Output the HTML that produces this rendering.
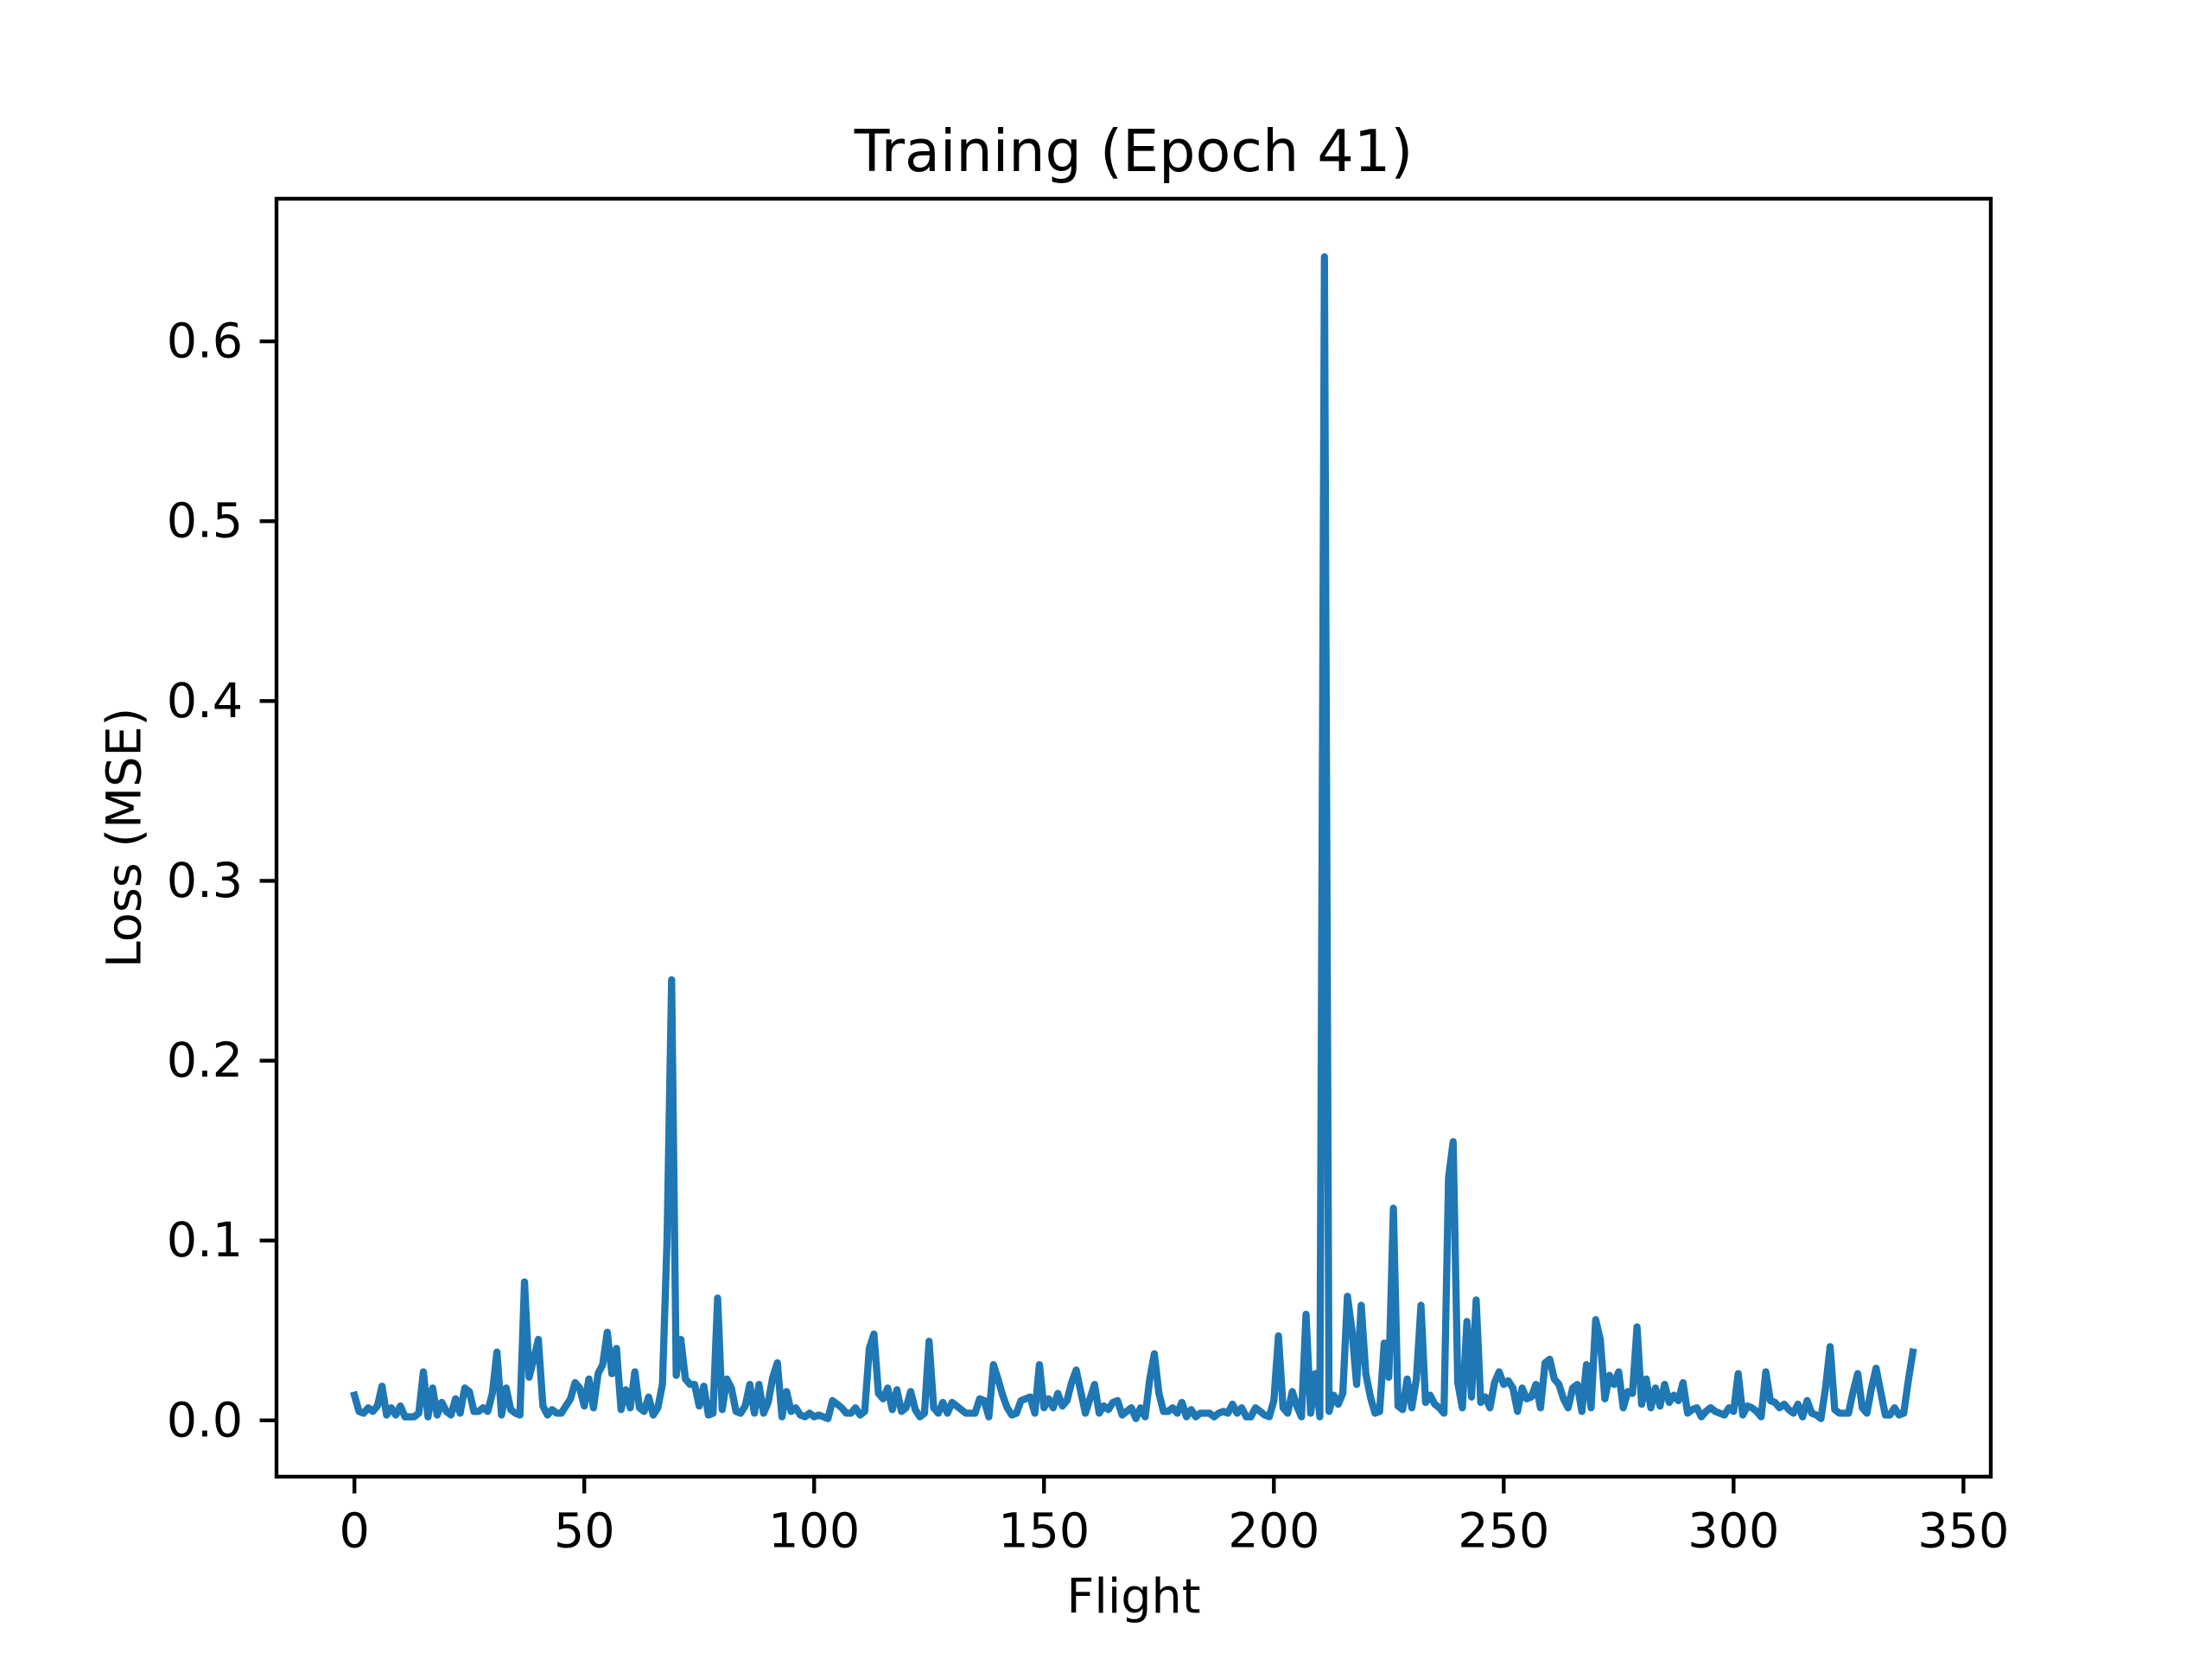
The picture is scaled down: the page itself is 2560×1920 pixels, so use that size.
<!DOCTYPE html>
<html><head><meta charset="utf-8"><title>Training (Epoch 41)</title>
<style>html,body{margin:0;padding:0;background:#fff}svg{display:block}text{font-family:"DejaVu Sans","Liberation Sans",sans-serif;fill:#000}</style>
</head><body>
<svg id="chart" width="2560" height="1920" viewBox="0 0 2560 1920" xmlns="http://www.w3.org/2000/svg">
<rect x="0" y="0" width="2560" height="1920" fill="#fff"/>
<g id="plot"></g>
</svg>
<script>
const lossValues = [
0.014,0.005,0.004,0.007,0.005,0.008,0.019,0.003,0.007,0.003,
0.008,0.002,0.002,0.002,0.004,0.027,0.002,0.018,0.003,0.010,
0.005,0.003,0.012,0.004,0.018,0.016,0.005,0.005,0.007,0.005,
0.015,0.038,0.003,0.018,0.006,0.004,0.003,0.077,0.024,0.034,
0.045,0.008,0.003,0.006,0.004,0.004,0.008,0.012,0.021,0.018,
0.008,0.023,0.007,0.026,0.031,0.049,0.026,0.040,0.006,0.017,
0.007,0.027,0.007,0.005,0.013,0.003,0.007,0.020,0.100,0.245,
0.025,0.045,0.023,0.020,0.020,0.008,0.019,0.003,0.004,0.068,
0.006,0.023,0.018,0.005,0.004,0.008,0.020,0.004,0.020,0.004,
0.010,0.024,0.032,0.002,0.016,0.005,0.007,0.003,0.002,0.004,
0.002,0.003,0.002,0.001,0.011,0.009,0.007,0.004,0.004,0.007,
0.003,0.005,0.040,0.048,0.015,0.012,0.018,0.006,0.017,0.005,
0.007,0.016,0.006,0.002,0.004,0.044,0.007,0.004,0.010,0.004,
0.010,0.008,0.006,0.004,0.004,0.004,0.012,0.011,0.002,0.031,
0.023,0.014,0.007,0.003,0.004,0.011,0.012,0.013,0.004,0.031,
0.007,0.012,0.007,0.015,0.008,0.011,0.021,0.028,0.016,0.004,
0.012,0.020,0.004,0.008,0.006,0.010,0.011,0.003,0.005,0.007,
0.001,0.007,0.002,0.023,0.037,0.015,0.005,0.005,0.007,0.004,
0.010,0.002,0.006,0.002,0.004,0.004,0.004,0.002,0.004,0.005,
0.004,0.009,0.004,0.007,0.002,0.002,0.007,0.005,0.003,0.002,
0.011,0.047,0.007,0.004,0.016,0.008,0.002,0.059,0.004,0.026,
0.002,0.647,0.005,0.014,0.009,0.015,0.069,0.050,0.020,0.064,
0.026,0.013,0.004,0.005,0.043,0.024,0.118,0.008,0.006,0.023,
0.007,0.023,0.064,0.010,0.014,0.009,0.007,0.004,0.135,0.155,
0.021,0.007,0.055,0.013,0.067,0.010,0.013,0.007,0.021,0.027,
0.020,0.022,0.018,0.005,0.018,0.012,0.013,0.020,0.007,0.032,
0.034,0.023,0.020,0.012,0.007,0.018,0.020,0.005,0.031,0.007,
0.056,0.045,0.012,0.025,0.020,0.027,0.007,0.016,0.015,0.052,
0.009,0.023,0.007,0.018,0.008,0.020,0.010,0.014,0.011,0.021,
0.004,0.006,0.007,0.002,0.005,0.007,0.005,0.004,0.003,0.007,
0.005,0.026,0.003,0.008,0.007,0.005,0.002,0.027,0.011,0.010,
0.007,0.009,0.006,0.004,0.009,0.002,0.011,0.004,0.003,0.001,
0.018,0.041,0.006,0.004,0.004,0.004,0.016,0.026,0.007,0.004,
0.018,0.029,0.016,0.003,0.003,0.007,0.003,0.004,0.022,0.038
];
const xTickValues = [0,50,100,150,200,250,300,350];
const yTickValues = [0.0,0.1,0.2,0.3,0.4,0.5,0.6];
const yTickLabels = ["0.0","0.1","0.2","0.3","0.4","0.5","0.6"];

const NS = "http://www.w3.org/2000/svg";
const L = 320, R = 2304, T = 230, B = 1709;
const n = lossValues.length;
const xMin = -0.05*(n-1), xMax = (n-1)*1.05;
const dMin = Math.min(...lossValues), dMax = Math.max(...lossValues);
const yMin = dMin - 0.05*(dMax-dMin), yMax = dMax + 0.05*(dMax-dMin);
function xScale(v){ return L + (v - xMin)/(xMax - xMin)*(R - L); }
function yScale(v){ return B - (v - yMin)/(yMax - yMin)*(B - T); }
const g = document.getElementById('plot');
function mk(tag, attrs, parent){ const e = document.createElementNS(NS, tag); for (const k in attrs) e.setAttribute(k, attrs[k]); (parent||g).appendChild(e); return e; }

// line
let d = "";
lossValues.forEach((v,i)=>{ d += (i? "L":"M") + xScale(i).toFixed(2) + " " + yScale(v).toFixed(2); });
const line = mk('path', {d:d, fill:'none', stroke:'#1f77b4', 'stroke-width':8.3, 'stroke-linejoin':'round', 'stroke-linecap':'square'});



// frame
const frame = mk('rect', {x:L, y:T, width:R-L, height:B-T, fill:'none', stroke:'#000', 'stroke-width':4.4});



// x ticks
xTickValues.forEach(v=>{
  const x = xScale(v);
  const t = mk('line', {x1:x, x2:x, y1:B, y2:B+19.4, stroke:'#000', 'stroke-width':4.4});
  
  
  const lb = mk('text', {x:x, y:1772, 'font-size':55.6, 'text-anchor':'middle', 'dominant-baseline':'central'});
  lb.textContent = String(v);
  
  
});
// y ticks
yTickValues.forEach((v,i)=>{
  const y = yScale(v);
  const t = mk('line', {x1:L-19.4, x2:L, y1:y, y2:y, stroke:'#000', 'stroke-width':4.4});
  
  
  const lb = mk('text', {x:L-38.8, y:y, 'font-size':55.6, 'text-anchor':'end', 'dominant-baseline':'central'});
  lb.textContent = yTickLabels[i];
  
  
});
const xl = mk('text', {x:(L+R)/2, y:1848, 'font-size':55.6, 'text-anchor':'middle', 'dominant-baseline':'central'});
xl.textContent = "Flight";


const yl = mk('text', {x:144, y:(T+B)/2, 'font-size':55.6, 'text-anchor':'middle', 'dominant-baseline':'central', transform:'rotate(-90 144 '+((T+B)/2)+')'});
yl.textContent = "Loss (MSE)";


const tt = mk('text', {x:(L+R)/2, y:175, 'font-size':66.7, 'text-anchor':'middle', 'dominant-baseline':'central'});
tt.textContent = "Training (Epoch 41)";


</script>
</body></html>
